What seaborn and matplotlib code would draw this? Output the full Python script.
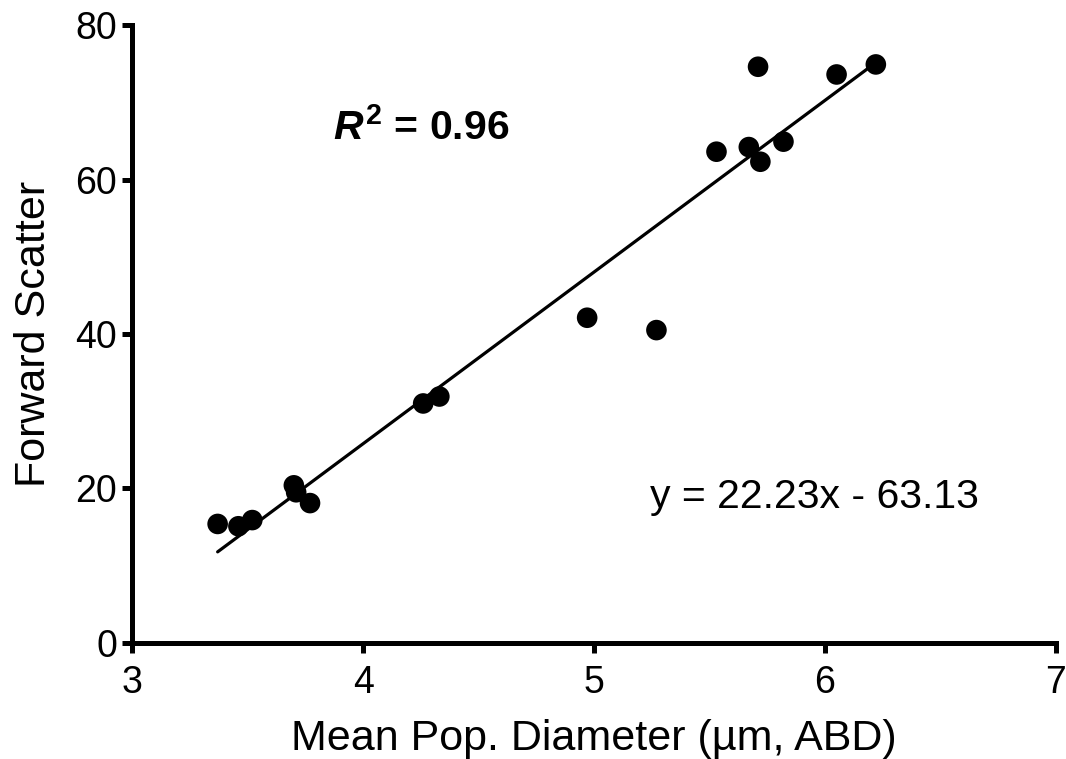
import matplotlib
matplotlib.use("Agg")
import matplotlib.pyplot as plt
import seaborn as sns
import numpy as np
import pandas as pd

# data
diameter = [3.37, 3.46, 3.52, 3.70, 3.71, 3.77, 4.26, 4.33, 4.97, 5.27,
            5.53, 5.67, 5.72, 5.71, 5.82, 6.05, 6.22]
scatter = [15.4, 15.1, 15.9, 20.4, 19.5, 18.1, 31.0, 31.9, 42.1, 40.5,
           63.6, 64.2, 62.3, 74.6, 64.9, 73.6, 74.9]
slope = 22.23
intercept = -63.13
r_squared = 0.96

sns.set_theme(style="ticks")
plt.rcParams['font.family'] = ['Liberation Sans', 'DejaVu Sans']
plt.rcParams['text.color'] = 'black'
plt.rcParams['axes.labelcolor'] = 'black'
# bold-italic R for the R² annotation
plt.rcParams['mathtext.fontset'] = 'custom'
plt.rcParams['mathtext.rm'] = 'Liberation Sans:bold'
plt.rcParams['mathtext.it'] = 'Liberation Sans:bold:italic'
plt.rcParams['mathtext.bf'] = 'Liberation Sans:bold'

df = pd.DataFrame({'Diameter': diameter, 'FSC': scatter})
fit_x = np.array([min(diameter), max(diameter)])
fit = pd.DataFrame({'Diameter': fit_x, 'FSC': slope * fit_x + intercept})

fig = plt.figure(figsize=(10.66, 7.59), dpi=100)
ax = fig.add_axes([0.124, 0.153, 0.8666, 0.814])

sns.lineplot(x='Diameter', y='FSC', data=fit, color='black', linewidth=2.3, ax=ax)
sns.scatterplot(x='Diameter', y='FSC', data=df, color='black', s=220,
                edgecolor='none', ax=ax, zorder=3)

ax.set_xlim(3, 7)
ax.set_ylim(0, 80)
ax.set_xticks([3, 4, 5, 6, 7])
ax.set_yticks([0, 20, 40, 60, 80])
for s in ['top', 'right']:
    ax.spines[s].set_visible(False)
for s in ['left', 'bottom']:
    ax.spines[s].set_linewidth(3.6)
    ax.spines[s].set_color('black')
    ax.spines[s].set_capstyle('projecting')
ax.tick_params(axis='both', length=7, width=3.6, color='black',
               labelsize=27, labelcolor='black', pad=4)
ax.tick_params(axis='x', pad=9)

ax.set_xlabel("Mean Pop. Diameter (µm, ABD)", fontsize=31, labelpad=13)
ax.set_ylabel("Forward Scatter", fontsize=31, labelpad=15)

ax.text(3.87, 66.7, r"$R^2$" + f" = {r_squared:.2f}", fontsize=29.5,
        fontweight='bold', va='center', ha='left')
ax.text(5.24, 18.9, f"y = {slope:.2f}x - {abs(intercept):.2f}", fontsize=29.5,
        va='center', ha='left')

fig.savefig("out.png", dpi=100)
